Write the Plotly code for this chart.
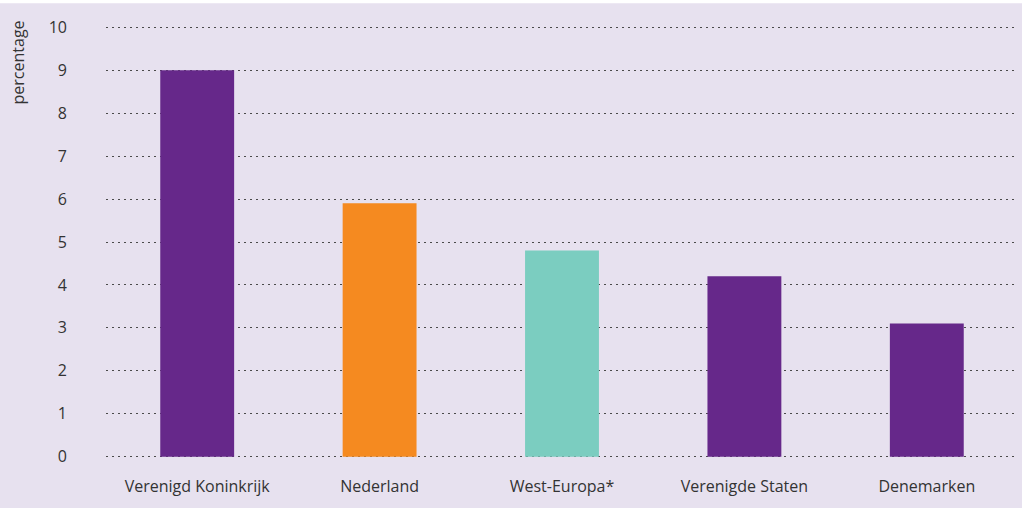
import plotly.graph_objects as go

categories = ["Verenigd Koninkrijk", "Nederland", "West-Europa*", "Verenigde Staten", "Denemarken"]
values = [9.0, 5.9, 4.8, 4.2, 3.1]
colors = ["#66288A", "#F58A20", "#7BCDC0", "#66288A", "#66288A"]
y_ticks = list(range(0, 11))
y_title = "percentage"

W, H = 1022, 508
bg = "#E7E1EF"
font_family = "Open Sans, Noto Sans, sans-serif"
T, B = 22.7, 46.7

fig = go.Figure(go.Bar(
    x=categories, y=values, marker=dict(color=colors, line=dict(width=0)),
    width=0.405, hoverinfo="skip"))

fig.update_layout(
    width=W, height=H,
    margin=dict(l=106, r=4, t=T, b=B),
    paper_bgcolor=bg, plot_bgcolor=bg,
    showlegend=False,
    font=dict(family=font_family, size=16, color="#333333"),
)
fig.update_xaxes(showgrid=False, zeroline=False, showline=False, ticks="",
                 ticklabelstandoff=14, tickfont=dict(size=16, color="#333333"))
fig.update_yaxes(range=[-0.1, 10.1], tickvals=y_ticks, showgrid=True,
                 gridcolor="#4a4a4a", gridwidth=1, griddash="2px,4px",
                 zeroline=False, showline=False, ticks="",
                 ticklabelstandoff=38, tickfont=dict(size=16, color="#333333"))

fig.add_annotation(text=y_title, xref="paper", yref="paper",
                   x=-0.097, y=1 - 40 / (H - T - B), xanchor="center", yanchor="middle",
                   textangle=-90, showarrow=False, font=dict(size=16, color="#333333"))
fig.add_shape(type="rect", xref="paper", yref="paper", x0=-0.2, x1=1.1,
              y0=1 + (T - 3) / (H - T - B), y1=1.2,
              fillcolor="white", line=dict(width=0), layer="above")

fig.write_html("out.html", config={"displayModeBar": False},
               post_script="document.body.style.margin='0';document.body.style.overflow='hidden';")
